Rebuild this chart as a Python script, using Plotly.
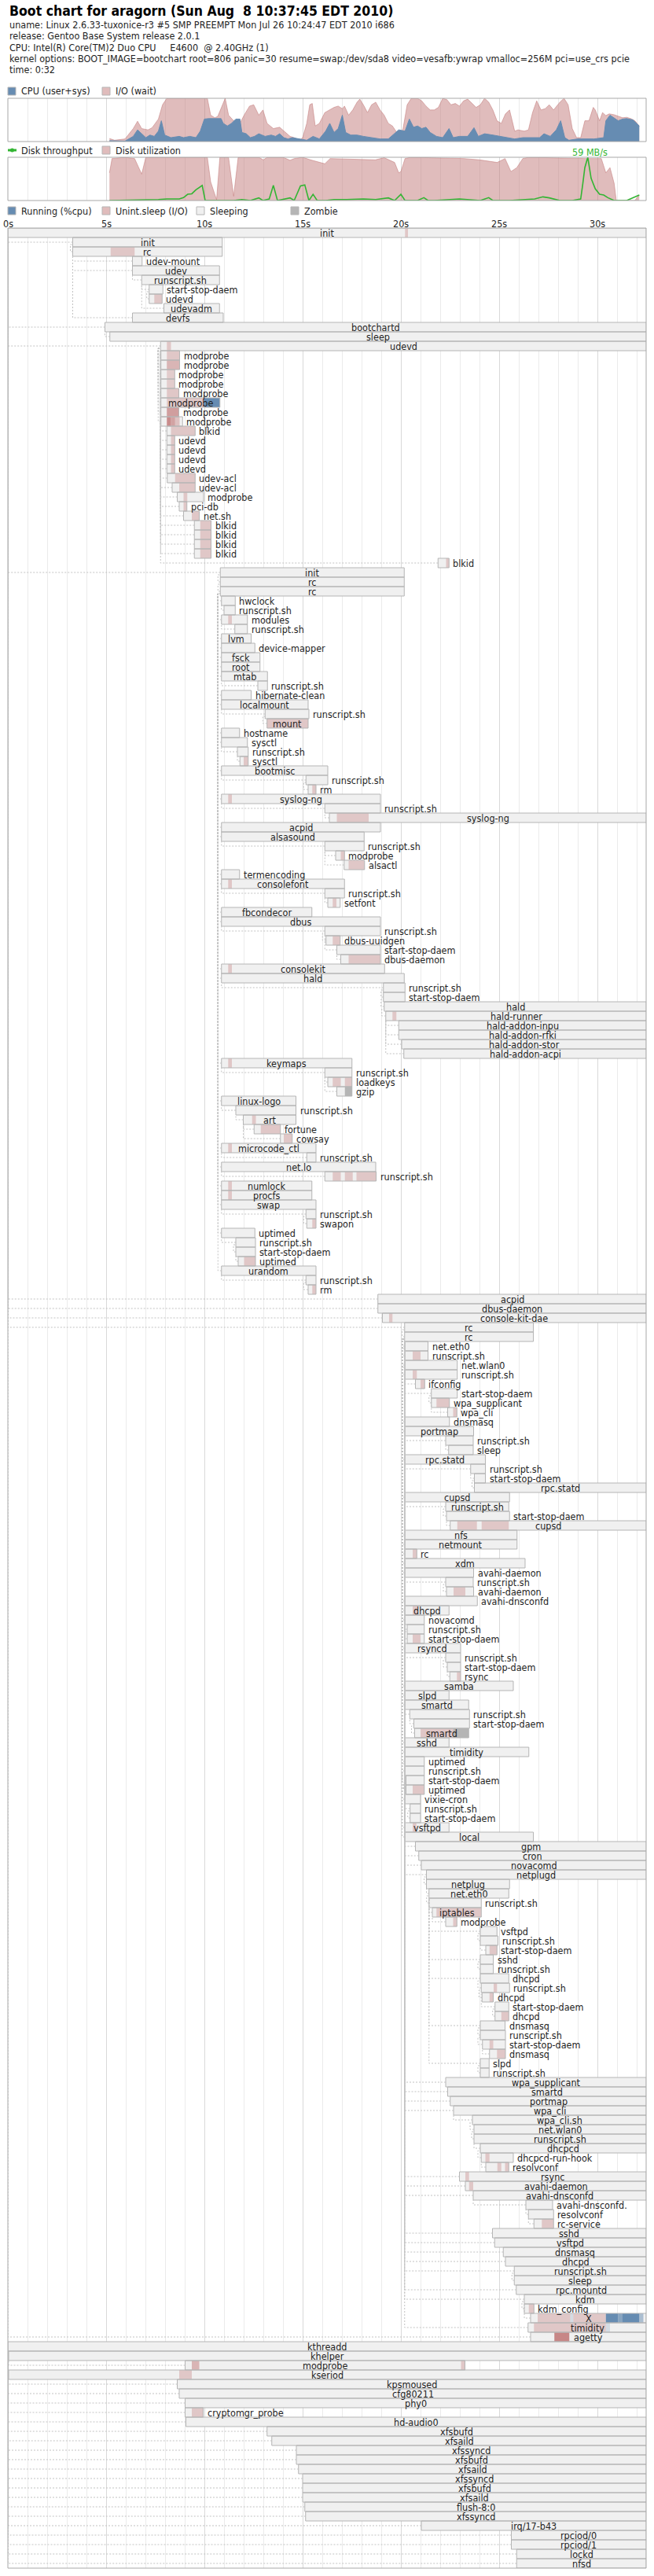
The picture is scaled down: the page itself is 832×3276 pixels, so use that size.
import re
import plotly.graph_objects as go

# ---------------------------------------------------------------- data
title_text = "Boot chart for aragorn (Sun Aug  8 10:37:45 EDT 2010)"
header_lines = [
    "uname: Linux 2.6.33-tuxonice-r3 #5 SMP PREEMPT Mon Jul 26 10:24:47 EDT 2010 i686",
    "release: Gentoo Base System release 2.0.1",
    "CPU: Intel(R) Core(TM)2 Duo CPU     E4600  @ 2.40GHz (1)",
    "kernel options: BOOT_IMAGE=bootchart root=806 panic=30 resume=swap:/dev/sda8 video=vesafb:ywrap vmalloc=256M pci=use_crs pcie",
    "time: 0:32",
]
tick_vals = [0, 5, 10, 15, 20, 25, 30]
tick_labels = ["0s", "5s", "10s", "15s", "20s", "25s", "30s"]

# CPU chart: user+sys (%) and user+sys+iowait (%)
cpu_t = [5.17,5.96,6.38,6.60,6.81,7.02,7.23,7.45,7.66,7.81,7.98,8.30,8.72,8.94,9.26,9.57,9.79,10.0,10.21,10.85,
         10.96,11.17,11.38,11.60,11.81,11.91,12.13,12.34,12.55,12.77,13.09,13.40,13.62,13.83,14.04,14.26,14.47,14.89,15.21,15.53,
         15.85,16.17,16.38,16.60,16.81,17.02,17.19,17.45,17.77,18.09,18.51,18.94,19.36,19.68,19.89,20.21,20.43,20.64,20.85,21.06,
         21.28,21.49,21.81,22.13,22.45,22.66,22.98,23.40,23.72,23.94,24.26,24.68,25.11,25.43,25.79,26.21,26.64,27.06,27.28,27.60,
         27.91,28.13,28.34,28.55,28.98,29.83,30.32,30.43,30.64,30.85,31.06,31.28,31.49,31.81,32.13]
cpu_busy = [2,1,12,27,18,9,15,12,24,48,15,9,12,9,12,9,24,52,53,53,
            42,36,42,52,52,21,18,9,12,18,12,15,12,18,9,6,9,6,3,12,
            6,24,42,21,30,61,21,15,15,12,9,6,6,18,27,24,52,33,36,30,
            33,21,12,9,30,9,12,12,32,12,18,15,12,9,6,9,9,9,18,12,
            27,48,9,3,6,6,9,48,61,55,48,52,53,50,36]
io_t = [5.17,5.43,5.96,6.38,6.60,6.81,7.13,7.34,7.66,7.87,8.09,10.0,10.15,10.32,10.53,10.68,11.06,11.23,11.49,11.81,
        12.02,12.30,12.51,12.77,12.98,13.19,13.51,13.83,14.04,14.36,14.57,14.85,15.0,15.21,15.36,15.49,15.64,15.85,16.13,16.38,
        16.60,16.81,17.02,17.13,17.34,17.55,17.77,17.91,18.09,18.30,18.51,18.72,18.94,19.15,19.36,19.57,19.79,20.0,20.11,20.32,
        20.53,20.85,21.06,21.28,21.49,21.70,21.91,22.13,22.34,22.55,22.77,22.98,23.19,23.40,23.62,23.83,24.04,24.26,24.47,24.68,
        24.89,25.11,25.32,25.53,25.79,25.96,26.28,26.49,26.70,26.91,27.13,27.34,27.55,27.77,28.09,28.30,28.51,28.72,28.94,29.15,
        29.36,29.57,29.79,29.89,30.11,30.26,30.43,30.60,30.85,31.06,31.28,31.49,31.70,31.91,32.13]
io_total = [7,3,6,30,47,30,27,32,52,85,100,100,100,61,55,58,100,61,48,42,
            61,82,85,61,73,42,30,33,24,12,9,3,9,42,85,88,36,42,67,73,
            79,82,76,82,61,73,91,98,85,67,85,91,73,61,42,36,21,18,30,85,
            100,100,94,82,73,73,79,100,97,85,88,82,94,98,88,79,85,100,91,73,
            48,42,64,73,24,27,24,27,67,94,73,76,85,73,91,100,85,30,9,9,
            48,48,79,73,48,67,60,64,62,58,55,56,53,48,36]

# Disk chart: utilisation (%) and throughput (MB/s)
disk_t = [5.17,5.30,5.96,6.45,6.81,7.02,10.15,10.32,10.62,10.79,11.23,11.49,11.72,12.77,13.0,13.2,14.0,14.36,14.57,15.0,
          15.4,16.13,16.4,18.7,19.15,19.68,19.89,20.0,20.21,20.5,23.2,24.0,24.9,25.3,25.6,25.9,26.2,26.5,29.4,30.2,
          30.43,30.64,30.85,30.96,31.9,32.13]
disk_util = [64,97,100,97,61,100,100,43,2,100,100,10,100,100,94,100,100,93,97,100,
             94,85,97,94,99,88,64,67,97,100,97,94,88,97,67,76,97,100,97,97,
             64,76,40,0,0,13]
tput_t = [5.17,6.6,7.66,8.09,8.72,8.94,9.15,9.36,9.57,9.89,10.04,10.32,11.49,11.91,12.34,12.77,12.98,13.3,13.51,13.72,
          14.04,14.36,14.57,14.89,15.11,15.32,15.53,15.74,16.17,16.6,17.23,18.09,18.72,19.36,19.68,20.0,20.21,20.85,21.17,21.38,
          21.7,22.98,24.04,24.47,24.68,25.53,26.81,27.23,27.55,28.09,28.72,29.15,29.26,29.36,29.51,29.68,29.89,30.11,30.32,30.53,
          30.85,31.49,32.13]
tput_mbs = [0,0.4,1.4,2.1,2.1,3.9,8.5,9.2,14.6,20.6,0,0,0,1.4,0,3.6,0,2.1,20.6,0,
            2.1,3.6,0,19.9,21.3,0,8.5,0,0,1.4,1.4,2.1,1.4,3.6,0,8.5,0,0,3.9,0,
            0,2.1,0,3.9,0,0,2.1,5.0,3.6,0,0,2.1,23.5,44.8,59,30.2,16.0,8.5,7.5,3.9,
            0,0,7.5]

E = 32.49
proc_names = [
    "init","init","rc","udev-mount","udev","runscript.sh","start-stop-daem","udevd","udevadm","devfs",
    "bootchartd","sleep","udevd","modprobe","modprobe","modprobe","modprobe","modprobe","modprobe","modprobe",
    "modprobe","blkid","udevd","udevd","udevd","udevd","udev-acl","udev-acl","modprobe","pci-db",
    "net.sh","blkid","blkid","blkid","blkid","blkid","init","rc","rc","hwclock",
    "runscript.sh","modules","runscript.sh","lvm","device-mapper","fsck","root","mtab","runscript.sh","hibernate-clean",
    "localmount","runscript.sh","mount","hostname","sysctl","runscript.sh","sysctl","bootmisc","runscript.sh","rm",
    "syslog-ng","runscript.sh","syslog-ng","acpid","alsasound","runscript.sh","modprobe","alsactl","termencoding","consolefont",
    "runscript.sh","setfont","fbcondecor","dbus","runscript.sh","dbus-uuidgen","start-stop-daem","dbus-daemon","consolekit","hald",
    "runscript.sh","start-stop-daem","hald","hald-runner","hald-addon-inpu","hald-addon-rfki","hald-addon-stor","hald-addon-acpi","keymaps","runscript.sh",
    "loadkeys","gzip","linux-logo","runscript.sh","art","fortune","cowsay","microcode_ctl","runscript.sh","net.lo",
    "runscript.sh","numlock","procfs","swap","runscript.sh","swapon","uptimed","runscript.sh","start-stop-daem","uptimed",
    "urandom","runscript.sh","rm","acpid","dbus-daemon","console-kit-dae","rc","rc","net.eth0","runscript.sh",
    "net.wlan0","runscript.sh","ifconfig","start-stop-daem","wpa_supplicant","wpa_cli","dnsmasq","portmap","runscript.sh","sleep",
    "rpc.statd","runscript.sh","start-stop-daem","rpc.statd","cupsd","runscript.sh","start-stop-daem","cupsd","nfs","netmount",
    "rc","xdm","avahi-daemon","runscript.sh","avahi-daemon","avahi-dnsconfd","dhcpd","novacomd","runscript.sh","start-stop-daem",
    "rsyncd","runscript.sh","start-stop-daem","rsync","samba","slpd","smartd","runscript.sh","start-stop-daem","smartd",
    "sshd","timidity","uptimed","runscript.sh","start-stop-daem","uptimed","vixie-cron","runscript.sh","start-stop-daem","vsftpd",
    "local","gpm","cron","novacomd","netplugd","netplug","net.eth0","runscript.sh","iptables","modprobe",
    "vsftpd","runscript.sh","start-stop-daem","sshd","runscript.sh","dhcpd","runscript.sh","dhcpd","start-stop-daem","dhcpd",
    "dnsmasq","runscript.sh","start-stop-daem","dnsmasq","slpd","runscript.sh","wpa_supplicant","smartd","portmap","wpa_cli",
    "wpa_cli.sh","net.wlan0","runscript.sh","dhcpcd","dhcpcd-run-hook","resolvconf","rsync","avahi-daemon","avahi-dnsconfd","avahi-dnsconfd.",
    "resolvconf","rc-service","sshd","vsftpd","dnsmasq","dhcpd","runscript.sh","sleep","rpc.mountd","kdm",
    "kdm_config","X","timidity","agetty","kthreadd","khelper","modprobe","kseriod","kpsmoused","cfg80211",
    "phy0","cryptomgr_probe","hd-audio0","xfsbufd","xfsaild","xfssyncd","xfsbufd","xfsaild","xfssyncd","xfsbufd",
    "xfsaild","flush-8:0","xfssyncd","irq/17-b43","rpciod/0","rpciod/1","lockd","nfsd",
]
proc_start = [
    0, 3.30, 3.30, 6.34, 6.34, 6.81, 7.19, 7.19, 7.94, 6.34,
    4.94, 5.19, 7.77, 7.79, 7.79, 7.79, 7.79, 7.79, 7.79, 7.79,
    7.79, 8.09, 8.09, 8.09, 8.09, 8.09, 8.11, 8.36, 8.62, 8.72,
    8.94, 9.49, 9.49, 9.49, 9.49, 21.89, 10.81, 10.81, 10.81, 10.87,
    11.00, 10.87, 11.55, 10.87, 10.87, 10.87, 10.87, 10.87, 12.72, 10.87,
    10.87, 13.09, 13.19, 10.87, 10.87, 11.68, 11.81, 10.87, 15.17, 15.28,
    10.87, 16.13, 16.36, 10.87, 10.87, 16.13, 16.68, 17.11, 10.87, 10.87,
    16.13, 16.28, 10.87, 10.87, 16.13, 16.19, 16.74, 16.94, 10.87, 10.87,
    19.11, 19.11, 19.15, 19.23, 19.89, 19.89, 20.04, 20.15, 10.87, 16.13,
    16.28, 16.74, 10.87, 11.60, 11.98, 12.53, 13.87, 10.87, 15.21, 10.87,
    16.13, 10.87, 10.87, 10.87, 15.17, 15.21, 10.87, 11.60, 11.60, 11.72,
    10.87, 15.17, 15.28, 18.83, 18.83, 19.06, 20.19, 20.19, 20.19, 20.19,
    20.19, 20.19, 20.74, 21.55, 21.55, 22.38, 20.19, 20.19, 22.28, 22.43,
    20.19, 23.55, 23.74, 23.74, 20.19, 22.28, 22.32, 22.51, 20.19, 20.19,
    20.19, 20.19, 20.19, 22.28, 22.32, 20.19, 20.19, 20.19, 20.32, 20.32,
    20.19, 22.28, 22.36, 22.49, 20.19, 20.19, 20.19, 20.45, 20.66, 20.70,
    20.19, 20.19, 20.19, 20.19, 20.26, 20.26, 20.19, 20.47, 20.47, 20.19,
    20.19, 20.74, 20.91, 21.04, 21.30, 21.30, 21.43, 21.43, 21.60, 22.28,
    24.04, 24.04, 24.32, 24.04, 24.04, 24.04, 24.09, 24.13, 24.79, 24.79,
    24.04, 24.04, 24.15, 24.51, 24.04, 24.04, 22.28, 22.38, 22.51, 22.68,
    23.64, 23.72, 23.72, 24.04, 24.09, 24.32, 22.98, 23.28, 23.68, 26.36,
    26.49, 26.77, 24.66, 24.77, 25.21, 25.32, 25.77, 25.77, 25.87, 26.28,
    26.28, 26.60, 26.47, 26.60, 0, 0.04, 9.02, 0.04, 8.62, 8.72,
    9.02, 9.02, 9.06, 13.19, 13.43, 14.68, 14.68, 14.79, 15.00, 15.00,
    15.00, 15.11, 15.15, 21.04, 25.62, 25.62, 25.89, 25.89,
]
proc_end = [
    E, 10.91, 10.91, 6.83, 10.77, 10.77, 7.89, 7.85, 10.77, 10.96,
    E, E, E, 8.74, 8.74, 8.49, 8.49, 8.70, 10.79, 8.70,
    8.89, 9.53, 8.49, 8.49, 8.49, 8.49, 9.53, 9.53, 9.96, 9.11,
    9.74, 10.34, 10.34, 10.34, 10.34, 22.45, 20.17, 20.17, 20.17, 11.57,
    11.57, 12.19, 12.19, 12.38, 12.57, 12.83, 12.83, 13.21, 13.21, 12.38,
    15.28, 15.32, 15.28, 11.79, 12.19, 12.23, 12.23, 16.28, 16.28, 15.68,
    18.96, 18.96, E, 18.96, 18.13, 18.13, 17.13, 18.15, 11.79, 17.13,
    17.13, 16.91, 15.47, 18.96, 18.96, 16.91, 18.96, 18.96, 19.17, 20.17,
    20.21, 20.21, E, E, E, E, E, E, 17.51, 17.51,
    17.51, 17.51, 14.66, 14.66, 14.66, 13.87, 14.47, 15.68, 15.68, 18.72,
    18.74, 15.47, 15.47, 15.68, 15.68, 15.68, 12.57, 12.60, 12.60, 12.60,
    15.68, 15.68, 15.68, E, E, E, 26.74, 26.74, 21.38, 21.38,
    22.87, 22.87, 21.21, 22.87, 22.47, 22.85, 22.47, 23.70, 23.68, 23.68,
    24.30, 24.30, 24.30, E, 25.53, 25.49, 25.53, E, 25.91, 25.91,
    20.81, 26.32, 23.70, 23.68, 23.70, 23.89, 22.45, 21.19, 21.19, 21.19,
    23.04, 23.04, 23.04, 23.04, 25.72, 22.45, 23.45, 23.49, 23.49, 23.45,
    22.45, 26.51, 21.19, 21.19, 21.19, 21.19, 21.00, 21.00, 21.00, 22.45,
    26.74, E, E, E, E, 25.53, 25.49, 24.09, 24.09, 22.85,
    24.89, 24.94, 24.89, 24.70, 24.70, 25.49, 25.53, 24.70, 25.49, 25.49,
    25.30, 25.32, 25.32, 25.32, 24.49, 24.49, E, E, E, E,
    E, E, E, E, 25.72, 25.49, E, E, E, 27.72,
    27.77, 27.77, E, E, E, E, E, E, E, E,
    26.77, E, E, E, E, E, 23.26, E, E, E,
    E, 9.94, E, E, E, E, E, E, E, E,
    E, E, E, E, E, E, E, E,
]
proc_parent = [
    None, 0, 1, 2, 2, 4, 5, 6, 5, 2,
    0, 10, 0, 12, 12, 12, 12, 12, 12, 12,
    12, 12, 12, 12, 12, 12, 12, 12, 12, 12,
    12, 12, 12, 12, 12, 12, 0, 36, 37, 38,
    39, 38, 41, 38, 38, 38, 38, 38, 47, 38,
    38, 50, 51, 38, 38, 54, 55, 38, 57, 58,
    38, 60, 61, 38, 38, 64, 65, 65, 38, 38,
    69, 70, 38, 38, 73, 74, 74, 76, 38, 38,
    79, 80, 81, 82, 83, 83, 83, 83, 38, 88,
    89, 89, 38, 92, 93, 94, 94, 38, 97, 38,
    99, 38, 38, 38, 103, 104, 38, 106, 107, 108,
    38, 110, 111, 0, 0, 0, 0, 116, 117, 118,
    117, 120, 121, 121, 123, 123, 117, 117, 127, 128,
    117, 130, 131, 132, 117, 134, 135, 136, 117, 117,
    117, 117, 117, 142, 143, 117, 117, 117, 147, 148,
    117, 150, 151, 152, 117, 117, 117, 156, 157, 158,
    117, 117, 117, 162, 163, 164, 117, 166, 167, 117,
    117, 117, 117, 117, 117, 174, 175, 176, 177, 178,
    176, 180, 181, 176, 183, 176, 185, 186, 186, 188,
    176, 190, 191, 192, 176, 194, 117, 117, 117, 117,
    199, 200, 201, 202, 203, 204, 117, 117, 117, 208,
    209, 210, 117, 117, 117, 117, 117, 216, 117, 117,
    219, 219, 117, 0, None, 224, 225, 224, 224, 224,
    224, 224, 224, 224, 224, 224, 224, 224, 224, 224,
    224, 224, 224, 224, 224, 224, 224, 224,
]
# (row, start, end, intensity) of uninterruptible-sleep (I/O) periods
io_wait_segments = [
    (0, 20.21, 20.36, .35), (2, 5.23, 6.45, .35), (7, 7.45, 7.85, .35), (12, 8.09, 8.30, .35),
    (13, 8.09, 8.74, .35), (14, 8.09, 8.74, .5), (15, 8.09, 8.49, .3), (16, 8.09, 8.49, .3),
    (17, 8.09, 8.70, .35), (18, 8.09, 10.0, .35), (19, 8.09, 8.70, .7),
    (20, 8.09, 8.30, .85), (20, 8.30, 8.51, .65), (20, 8.51, 8.74, .4),
    (21, 8.30, 9.53, .35), (22, 8.30, 8.49, .35), (23, 8.30, 8.49, .35), (24, 8.30, 8.49, .35),
    (25, 8.30, 8.49, .35), (26, 8.51, 9.53, .35), (27, 8.72, 9.53, .35), (28, 8.94, 9.13, .35),
    (29, 8.94, 9.11, .35), (30, 9.36, 9.74, .35), (31, 9.79, 10.34, .35), (32, 9.79, 10.34, .35),
    (33, 9.79, 10.34, .35), (34, 9.79, 10.34, .35), (35, 22.30, 22.45, .35), (41, 11.21, 11.40, .35),
    (52, 13.19, 15.28, .35), (56, 12.0, 12.23, .35), (59, 15.49, 15.68, .35), (60, 11.21, 11.40, .35),
    (62, 16.74, 18.36, .35), (66, 16.94, 17.13, .35), (67, 17.34, 18.15, .35), (69, 11.21, 11.40, .35),
    (71, 16.53, 16.72, .35), (75, 16.53, 16.91, .35), (77, 17.34, 18.96, .35), (78, 11.21, 11.40, .35),
    (83, 19.57, 19.77, .35), (88, 11.21, 11.40, .35), (90, 16.53, 16.94, .35), (90, 17.15, 17.51, .35),
    (94, 12.43, 12.62, .35), (95, 12.87, 13.87, .35), (96, 14.04, 14.47, .35), (97, 11.21, 11.40, .35),
    (100, 16.53, 16.94, .35), (100, 17.15, 17.55, .35), (100, 17.74, 18.74, .35),
    (101, 11.21, 11.40, .35), (102, 11.21, 11.40, .35), (105, 15.49, 15.68, .35), (109, 12.02, 12.60, .35),
    (112, 15.49, 15.68, .35), (115, 19.40, 19.57, .35), (119, 20.60, 21.0, .35), (121, 20.60, 20.81, .35),
    (122, 21.0, 21.21, .35), (124, 21.81, 22.47, .35), (125, 22.66, 22.85, .35), (137, 22.87, 23.87, .35),
    (137, 24.11, 25.49, .35), (140, 20.60, 20.81, .35), (144, 22.68, 23.28, .35), (146, 20.60, 20.85, .35),
    (149, 20.60, 21.0, .35), (153, 22.85, 23.04, .35), (159, 21.0, 22.66, .35), (165, 20.60, 21.19, .35),
    (169, 20.60, 20.79, .35), (178, 21.81, 24.09, .35), (179, 22.66, 22.85, .35), (182, 24.51, 24.89, .35),
    (186, 24.72, 24.89, .35), (187, 24.51, 24.70, .35), (189, 25.11, 25.49, .35), (192, 24.51, 24.70, .35),
    (193, 24.89, 25.32, .35), (204, 24.30, 24.51, .35), (205, 24.91, 25.11, .35), (205, 25.30, 25.49, .35),
    (206, 23.28, 23.47, .35), (207, 23.47, 23.68, .35), (211, 27.17, 27.77, .35), (220, 26.51, 26.77, .35),
    (221, 26.96, 28.62, .35), (221, 28.77, 30.43, .35), (222, 26.77, 30.43, .35), (223, 27.81, 28.57, .9),
    (226, 9.36, 9.74, .5), (226, 23.06, 23.26, .35), (227, 8.72, 9.36, .35), (231, 9.36, 9.94, .35),
]
# (row, start, end, intensity) of running periods
running_segments = [
    (18, 10.0, 10.79, 1.0), (221, 28.62, 28.77, .2), (221, 30.43, 31.06, 1.0), (221, 31.06, 31.28, .75),
    (221, 31.28, 32.13, 1.0), (221, 32.13, 32.34, .5), (222, 30.43, 30.64, .2),
]
# (row, start, end) of zombie periods
zombie_segments = [(91, 17.15, 17.51), (159, 22.66, 23.45)]

# ---------------------------------------------------------------- style / layout
W, H = 832, 3276
X0, X1 = 10, 822
DUR = 32.48
PROC_TOP, ROW_PX = 290, 12
FONT = "DejaVu Sans Condensed, Liberation Sans Narrow, DejaVu Sans, sans-serif"
TXT = "#1e1e1e"
CPU_C = "#668cb2"
IO_RGB = "194,122,122"
SLEEP_C = "#f0f0f0"
BORDER_C = "#b5b5b5"
ZOMBIE_C = "#b5b5b5"
TPUT_C = "#33b533"
PX_PER_S = (X1 - X0) / DUR
n_rows = len(proc_names)


def yp(px):
    return 1 - px / H


def nbsp(s):
    return re.sub(r" {2,}", lambda m: "\u00a0" * len(m.group()), s)


_cw = dict(a=1255, b=1300, c=1126, d=1300, e=1260, f=721, g=1300, h=1298, i=569, j=569, k=1186, l=569,
           m=1995, n=1298, o=1253, p=1300, q=1300, r=842, s=1067, t=803, u=1298, v=1212, w=1675, x=1212,
           y=1212, z=1075)
_cw.update({".": 651, "-": 739, "_": 1024, ":": 690, "/": 690, "X": 1401})


def text_px(s):
    return sum(_cw.get(ch, 1303) for ch in s) / 2048 * 11.5


fig = go.Figure()

# --- dependency connectors
cx, cy = [], []
for i, par in enumerate(proc_parent):
    if par is None:
        continue
    xs, ps = proc_start[i], proc_start[par]
    ym = i + 0.5
    if abs(xs - ps) * PX_PER_S < 3:
        off = 3 / PX_PER_S
        cx += [xs, ps - off, ps - off, ps, None]
        cy += [ym, ym, par + 0.75, par + 0.75, None]
    else:
        cx += [xs, ps, ps, None]
        cy += [ym, ym, par + 1, None]
fig.add_trace(go.Scatter(x=cx, y=cy, mode="lines", hoverinfo="skip",
                         line=dict(color="#c2c2c2", width=1, dash="2px,2px"), xaxis="x", yaxis="y"))

# --- process boxes
rows_c = [i + 0.5 for i in range(n_rows)]
durs = [e - s for s, e in zip(proc_start, proc_end)]
fig.add_trace(go.Bar(orientation="h", y=rows_c, x=durs, base=proc_start, width=1,
                     marker=dict(color=SLEEP_C, line=dict(width=0)), xaxis="x", yaxis="y", hoverinfo="skip"))
fig.add_trace(go.Bar(orientation="h",
                     y=[r + 0.5 for r, s, e, a in io_wait_segments],
                     x=[e - s for r, s, e, a in io_wait_segments],
                     base=[s for r, s, e, a in io_wait_segments], width=1,
                     marker=dict(color=[f"rgba({IO_RGB},{a})" for r, s, e, a in io_wait_segments], line=dict(width=0)),
                     xaxis="x", yaxis="y", hoverinfo="skip"))
fig.add_trace(go.Bar(orientation="h",
                     y=[r + 0.5 for r, s, e, a in running_segments],
                     x=[e - s for r, s, e, a in running_segments],
                     base=[s for r, s, e, a in running_segments], width=1,
                     marker=dict(color=[f"rgba(102,140,178,{a})" for r, s, e, a in running_segments], line=dict(width=0)),
                     xaxis="x", yaxis="y", hoverinfo="skip"))
fig.add_trace(go.Bar(orientation="h",
                     y=[r + 0.5 for r, s, e in zombie_segments],
                     x=[e - s for r, s, e in zombie_segments],
                     base=[s for r, s, e in zombie_segments], width=1,
                     marker=dict(color=ZOMBIE_C, line=dict(width=0)), xaxis="x", yaxis="y", hoverinfo="skip"))
fig.add_trace(go.Bar(orientation="h", y=rows_c, x=durs, base=proc_start, width=1,
                     marker=dict(color="rgba(0,0,0,0)", line=dict(width=1, color=BORDER_C)),
                     xaxis="x", yaxis="y", hoverinfo="skip"))

annotations = []
for i, name in enumerate(proc_names):
    s, e = proc_start[i], proc_end[i]
    if text_px(name) + 11 <= (e - s) * PX_PER_S:
        annotations.append(dict(x=(s + e) / 2, y=i + 0.5, xref="x", yref="y", text=name, showarrow=False,
                                xanchor="center", yanchor="middle", font=dict(family=FONT, size=12.5, color=TXT)))
    else:
        annotations.append(dict(x=e, y=i + 0.5, xref="x", yref="y", text=name, showarrow=False, xshift=3,
                                xanchor="left", yanchor="middle", font=dict(family=FONT, size=12.5, color=TXT)))

# --- CPU chart
fig.add_trace(go.Scatter(x=io_t, y=io_total, mode="lines", fill="tozeroy", fillcolor=f"rgba({IO_RGB},0.5)",
                         line=dict(color=f"rgba({IO_RGB},0.55)", width=1), xaxis="x2", yaxis="y2", hoverinfo="skip"))
fig.add_trace(go.Scatter(x=cpu_t, y=cpu_busy, mode="lines", fill="tozeroy", fillcolor=CPU_C,
                         line=dict(color=CPU_C, width=1), xaxis="x2", yaxis="y2", hoverinfo="skip"))

# --- Disk chart
fig.add_trace(go.Scatter(x=disk_t, y=disk_util, mode="lines", fill="tozeroy", fillcolor=f"rgba({IO_RGB},0.5)",
                         line=dict(color=f"rgba({IO_RGB},0.55)", width=1), xaxis="x3", yaxis="y3", hoverinfo="skip"))
fig.add_trace(go.Scatter(x=tput_t, y=tput_mbs, mode="lines", line=dict(color=TPUT_C, width=1.6),
                         xaxis="x3", yaxis="y4", hoverinfo="skip", cliponaxis=False))

max_i = max(range(len(tput_mbs)), key=lambda k: tput_mbs[k])
annotations.append(dict(x=tput_t[max_i], y=yp(193), xref="x3", yref="paper", text=f"{tput_mbs[max_i]:.0f} MB/s",
                        showarrow=False, xanchor="center", yanchor="middle", xshift=3,
                        font=dict(family=FONT, size=12.5, color=TPUT_C)))

# --- header text
annotations.append(dict(x=X0 / W, y=yp(14), xref="paper", yref="paper", text="<b>" + nbsp(title_text) + "</b>",
                        showarrow=False, xanchor="left", yanchor="middle", font=dict(family=FONT, size=17.5, color="#000")))
for k, line in enumerate(header_lines):
    annotations.append(dict(x=X0 / W, y=yp(32 + 14 * k), xref="paper", yref="paper", text=nbsp(line),
                            showarrow=False, xanchor="left", yanchor="middle",
                            font=dict(family=FONT, size=12.5, color=TXT)))

# --- legends
shapes = []


def legend_box(x, ymid, color, label):
    shapes.append(dict(type="rect", xref="paper", yref="paper", x0=x / W, x1=(x + 10) / W,
                       y0=yp(ymid + 5), y1=yp(ymid - 5), fillcolor=color, line=dict(color=BORDER_C, width=1)))
    annotations.append(dict(x=(x + 15) / W, y=yp(ymid), xref="paper", yref="paper", text=label, showarrow=False,
                            xanchor="left", yanchor="middle", font=dict(family=FONT, size=12.5, color=TXT)))


legend_box(10, 116, CPU_C, "CPU (user+sys)")
legend_box(130, 116, f"rgba({IO_RGB},0.5)", "I/O (wait)")
# throughput legend marker
shapes.append(dict(type="rect", xref="paper", yref="paper", x0=10 / W, x1=21 / W, y0=yp(192.5), y1=yp(189.5),
                   fillcolor=TPUT_C, line=dict(width=0)))
shapes.append(dict(type="circle", xref="paper", yref="paper", x0=13 / W, x1=18 / W, y0=yp(193.5), y1=yp(188.5),
                   fillcolor=TPUT_C, line=dict(width=0)))
annotations.append(dict(x=25 / W, y=yp(191), xref="paper", yref="paper", text="Disk throughput", showarrow=False,
                        xanchor="left", yanchor="middle", font=dict(family=FONT, size=12.5, color=TXT)))
legend_box(130, 191, f"rgba({IO_RGB},0.5)", "Disk utilization")
legend_box(10, 268, CPU_C, "Running (%cpu)")
legend_box(130, 268, f"rgba({IO_RGB},0.5)", "Unint.sleep (I/O)")
legend_box(250, 268, SLEEP_C, "Sleeping")
legend_box(370, 268, ZOMBIE_C, "Zombie")

# --- time tick labels above the process chart
for v, lab in zip(tick_vals, tick_labels):
    annotations.append(dict(x=v, y=yp(284), xref="x", yref="paper", text=lab, showarrow=False,
                            xanchor="center", yanchor="middle", font=dict(family=FONT, size=12.5, color=TXT)))

# --- frames
for xr, yr in (("x", "y"), ("x2", "y2"), ("x3", "y3")):
    shapes.append(dict(type="rect", xref=f"{xr} domain", yref=f"{yr} domain", x0=0, x1=1, y0=0, y1=1,
                       line=dict(color="#a8a8a8", width=1), fillcolor="rgba(0,0,0,0)", layer="above"))

xdom = [X0 / W, X1 / W]
xcommon = dict(range=[0, DUR], domain=xdom, showticklabels=False, ticks="", zeroline=False, showline=False,
               showgrid=True, tick0=0, dtick=5, gridcolor="#d9d9d9", gridwidth=1,
               minor=dict(tick0=0, dtick=1, showgrid=True, gridcolor="#ebebeb", gridwidth=1), fixedrange=True)
ycommon = dict(showticklabels=False, ticks="", zeroline=False, showline=False, showgrid=False, fixedrange=True)

fig.update_layout(
    width=W, height=H, margin=dict(l=0, r=0, t=0, b=0), autosize=False,
    paper_bgcolor="white", plot_bgcolor="white", showlegend=False, barmode="overlay",
    xaxis=dict(xcommon, anchor="y"),
    yaxis=dict(ycommon, range=[n_rows, 0], domain=[yp(PROC_TOP + n_rows * ROW_PX), yp(PROC_TOP)], anchor="x"),
    xaxis2=dict(xcommon, anchor="y2"),
    yaxis2=dict(ycommon, range=[0, 100], domain=[yp(180), yp(125)], anchor="x2"),
    xaxis3=dict(xcommon, anchor="y3"),
    yaxis3=dict(ycommon, range=[0, 100], domain=[yp(255), yp(200)], anchor="x3"),
    yaxis4=dict(ycommon, range=[0, max(tput_mbs)], domain=[yp(255), yp(200)], overlaying="y3", anchor="x3"),
    annotations=annotations, shapes=shapes,
)

fig.write_html("out.html", config={"displayModeBar": False, "staticPlot": True},
               post_script="document.body.style.margin='0';document.body.style.overflow='hidden';")
